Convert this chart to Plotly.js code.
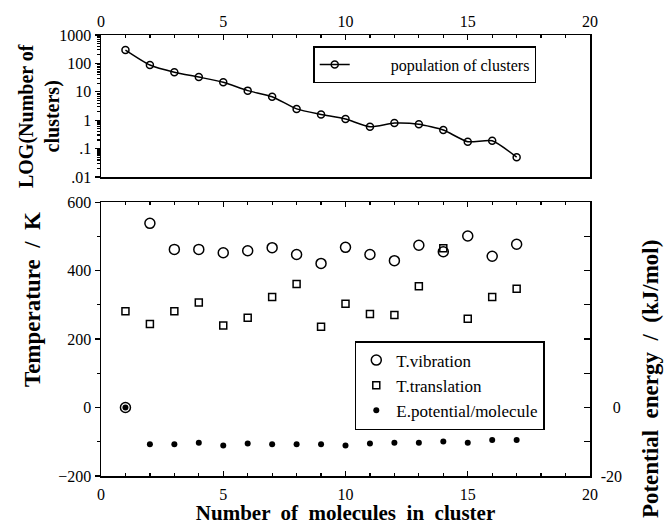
<!DOCTYPE html>
<html><head><meta charset="utf-8">
<script src="https://cdn.plot.ly/plotly-3.0.1.min.js"></script>
<style>body{margin:0;padding:0;background:#fff}</style>
</head><body>
<div id="chart" style="width:665px;height:525px"></div>
<script>
const clusterSize = [1,2,3,4,5,6,7,8,9,10,11,12,13,14,15,16,17];
const population = [295,88,49,33,21.6,11,6.7,2.5,1.6,1.1,0.59,0.79,0.72,0.45,0.175,0.19,0.05];
const tVibration = [0,538,462,462,452,458,467,447,421,468,447,429,474,455,501,442,477];
const tTranslation = [281,244,281,307,240,262,323,361,236,303,273,270,354,465,259,323,347];
const ePotential = [0,-10.7,-10.7,-10.3,-11.1,-10.5,-10.7,-10.7,-10.7,-11.1,-10.5,-10.3,-10.3,-9.9,-10.3,-9.5,-9.5];
const logTickVals = [0.01,0.1,1,10,100,1000];
const logTickText = ['.01','.1','1','10','100','1000'];
const eTickVals = [-20,-10,0,10,20,30,40,50,60];
const eTickText = ['-20','','\u00a0\u00a0\u00a00','','','','','',''];

const serif = '"Liberation Serif", "DejaVu Serif", serif';
const minorLog = [];
[0.01,0.1,1,10,100].forEach(d=>{for(let k=2;k<=9;k++)minorLog.push(d*k);});

const traces = [
  {x: clusterSize, y: population, xaxis:'x2', yaxis:'y2', mode:'lines+markers',
   name:'\u00a0\u00a0\u00a0\u00a0\u00a0\u00a0\u00a0\u00a0\u00a0population of clusters', line:{color:'#000', width:1.5, shape:'spline', smoothing:0.6},
   marker:{symbol:'circle-open', size:7, color:'#000', line:{width:1.5}}, legend:'legend'},
  {x: clusterSize, y: tVibration, xaxis:'x', yaxis:'y', mode:'markers', name:'T.vibration',
   marker:{symbol:'circle-open', size:10, color:'#000', line:{width:1.5}}, legend:'legend2'},
  {x: clusterSize, y: tTranslation, xaxis:'x', yaxis:'y', mode:'markers', name:'T.translation',
   marker:{symbol:'square-open', size:7, color:'#000', line:{width:1.5}}, legend:'legend2'},
  {x: clusterSize, y: ePotential, xaxis:'x', yaxis:'y3', mode:'markers', name:'E.potential/molecule',
   marker:{symbol:'circle', size:6, color:'#000'}, legend:'legend2'}
];

const axCommon = {showgrid:false, zeroline:false, showline:true, linecolor:'#000', linewidth:1.5,
  ticks:'inside', ticklen:5, tickcolor:'#000', tickwidth:1.2, tickfont:{family:serif, size:16, color:'#000'}};

const layout = {
  width:665, height:525,
  margin:{l:101, r:75, t:35, b:49},
  paper_bgcolor:'#fff', plot_bgcolor:'#fff',
  font:{family:serif, color:'#000'},
  xaxis: Object.assign({}, axCommon, {range:[0,20], anchor:'y', domain:[0,1], tickvals:[0,5,10,15,20],
    mirror:'ticks', ticklabelstandoff:3, minor:{ticks:'inside', ticklen:3, dtick:1, tickcolor:'#000'},
    title:{text:'<b>Number  of  molecules  in  cluster</b>', font:{family:serif, size:21, color:'#000'}, standoff:0}}),
  yaxis: Object.assign({}, axCommon, {range:[-200,600], domain:[0,0.621], anchor:'x', tickvals:[-200,0,200,400,600],
    ticks:'outside', minor:{ticks:'outside', ticklen:3, dtick:100, tickcolor:'#000'}}),
  yaxis3: Object.assign({}, axCommon, {range:[-20,60], overlaying:'y', side:'right', anchor:'x',
    tickvals:eTickVals, ticktext:eTickText, ticks:'inside', ticklen:6, ticklabelstandoff:6}),
  xaxis2: Object.assign({}, axCommon, {range:[0,20], anchor:'y2', side:'top', tickvals:[0,5,10,15,20],
    mirror:true, minor:{ticks:'inside', ticklen:3, dtick:1, tickcolor:'#000'}}),
  yaxis2: Object.assign({}, axCommon, {type:'log', range:[-2,3], domain:[0.678,1], anchor:'x2',
    tickvals:logTickVals, ticktext:logTickText, ticks:'outside', mirror:true,
    minor:{ticks:'outside', ticklen:3, tickvals:minorLog, tickcolor:'#000'}}),
  legend:{x:0.434, y:0.975, xanchor:'left', yanchor:'top', bgcolor:'#fff', bordercolor:'#000', borderwidth:1.5,
    font:{family:serif, size:16, color:'#000'}},
  legend2:{x:0.519, y:0.306, xanchor:'left', yanchor:'top', bgcolor:'#fff', bordercolor:'#000', borderwidth:1.5,
    font:{family:serif, size:17, color:'#000'}, tracegroupgap:0, itemwidth:30},
  showlegend:true,
  annotations:[
    {xref:'paper', yref:'paper', x:-0.127, y:0.816, text:'<b>LOG(Number of<br>clusters)</b>', textangle:-90,
     showarrow:false, font:{family:serif, size:20, color:'#000'}, xanchor:'center', yanchor:'middle'},
    {xref:'paper', yref:'paper', x:-0.141, y:0.399, text:'<b>Temperature  /  K</b>', textangle:-90,
     showarrow:false, font:{family:serif, size:23, color:'#000'}, xanchor:'center', yanchor:'middle'},
    {xref:'paper', yref:'paper', x:1.125, y:0.22, text:'<b>Potential  energy  /  (kJ/mol)</b>', textangle:-90,
     showarrow:false, font:{family:serif, size:23, color:'#000'}, xanchor:'center', yanchor:'middle'}
  ]
};
Plotly.newPlot('chart', traces, layout, {displayModeBar:false, staticPlot:true});
</script>
</body></html>
